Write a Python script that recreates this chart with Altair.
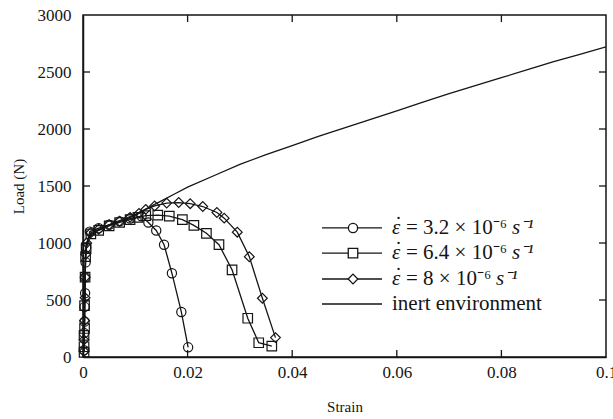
import altair as alt
import pandas as pd

# ---------------- data ----------------
series = ["r32", "r64", "r80", "inert"]

c_strain = [0.0002, 0.0002, 0.0003, 0.0003, 0.0004, 0.0004, 0.0005, 0.0006, 0.0013, 0.003,
            0.005, 0.007, 0.009, 0.0112, 0.0125, 0.014, 0.0155, 0.017, 0.0188, 0.0201]
c_load = [60, 210, 310, 440, 560, 700, 830, 960, 1100, 1130,
          1160, 1190, 1215, 1235, 1180, 1110, 985, 735, 395, 85]

s_strain = [0.0002, 0.0002, 0.0002, 0.0003, 0.0003, 0.0004, 0.0005, 0.0006, 0.0015, 0.003,
            0.005, 0.007, 0.009, 0.0105, 0.012, 0.0143, 0.0165, 0.019, 0.0212, 0.0236,
            0.026, 0.0285, 0.0315, 0.0336, 0.0361]
s_load = [40, 90, 190, 250, 450, 700, 880, 950, 1080, 1110,
          1150, 1180, 1205, 1225, 1240, 1245, 1235, 1205, 1155, 1085,
          985, 765, 340, 125, 95]

d_strain = [0.0002, 0.0002, 0.0003, 0.0004, 0.0004, 0.0005, 0.0007, 0.0015, 0.003, 0.005,
            0.007, 0.009, 0.0107, 0.012, 0.0137, 0.016, 0.0183, 0.0205, 0.0229, 0.0256,
            0.027, 0.0295, 0.0318, 0.0343, 0.0368]
d_load = [50, 150, 320, 520, 700, 900, 1000, 1090, 1120, 1160,
          1190, 1225, 1260, 1295, 1325, 1350, 1355, 1345, 1320, 1268,
          1218, 1095, 880, 515, 170]

i_strain = [0, 0.0002, 0.0004, 0.0006, 0.001, 0.002, 0.004, 0.006, 0.008, 0.01,
            0.0125, 0.015, 0.0175, 0.02, 0.025, 0.03, 0.035, 0.04, 0.045, 0.05,
            0.055, 0.06, 0.065, 0.07, 0.075, 0.08, 0.085, 0.09, 0.095, 0.1]
i_load = [0, 400, 800, 980, 1040, 1090, 1140, 1180, 1215, 1250,
          1310, 1370, 1430, 1490, 1590, 1690, 1775, 1855, 1935, 2010,
          2085, 2160, 2235, 2310, 2380, 2450, 2520, 2590, 2655, 2720]

x_ticks = [0, 0.02, 0.04, 0.06, 0.08, 0.1]
y_ticks = [0, 500, 1000, 1500, 2000, 2500, 3000]
x_inner_ticks = [0.02, 0.04, 0.06, 0.08]
y_inner_ticks = [500, 1000, 1500, 2000, 2500]

# legend entries (text pieces)
leg_series = ["r32", "r64", "r80", "inert"]
leg_eps = ["ε", "ε", "ε", ""]
leg_dot = ["˙", "˙", "˙", ""]
leg_mid = ["= 3.2 × 10⁻⁶", "= 6.4 × 10⁻⁶", "= 8 × 10⁻⁶", "inert environment"]
leg_unit = ["s⁻¹", "s⁻¹", "s⁻¹", ""]
leg_load = [1132, 912, 684, 465]

# ---------------- layout constants ----------------
W, H = 523, 342
PX = 0.1 / W          # strain per pixel
FONT = "Liberation Serif"
INK = "#151515"

# legend geometry (pixels inside plot, converted to strain)
lx0, lx1, lxm, lxt = 239, 299, 270, 309
dot_dx = [3, 3, 3, 0]
mid_dx = [14, 14, 14, 0]
unit_dx = [120, 120, 104, 0]

# ---------------- tables ----------------
def frame(xs, ys, name):
    return pd.DataFrame({"strain": xs, "load": ys, "series": name, "idx": range(len(xs))})

df = pd.concat([frame(c_strain, c_load, "r32"), frame(s_strain, s_load, "r64"),
                frame(d_strain, d_load, "r80"), frame(i_strain, i_load, "inert")],
               ignore_index=True)
df_pts = df[df["series"] != "inert"]

leg = pd.DataFrame({"series": leg_series, "eps": leg_eps, "dot": leg_dot, "mid": leg_mid,
                    "unit": leg_unit, "load": leg_load})
leg["strain"] = lx0 * PX
leg["strain2"] = lx1 * PX
leg["xm"] = lxm * PX
leg["xt"] = lxt * PX
leg["xdot"] = [(lxt + d) * PX for d in dot_dx]
leg["xmid"] = [(lxt + d) * PX for d in mid_dx]
leg["xunit"] = [(lxt + d) * PX for d in unit_dx]
leg_m = leg[leg["series"] != "inert"]

xs = alt.Scale(domain=[0, 0.1], nice=False, zero=False)
ys = alt.Scale(domain=[0, 3000], nice=False)

xaxis = alt.Axis(values=x_ticks, format="~g", ticks=False, grid=False,
                 labelPadding=7, labelFlush=False, labelOverlap=False, titlePadding=19)
yaxis = alt.Axis(values=y_ticks, format="d", ticks=False, grid=False,
                 labelPadding=12, labelFlush=False, labelOverlap=False, titlePadding=11)

def X(field="strain"):
    return alt.X(f"{field}:Q", scale=xs, axis=xaxis, title="Strain")

Y = alt.Y("load:Q", scale=ys, axis=yaxis, title="Load (N)")

shape_scale = alt.Scale(domain=["r32", "r64", "r80"], range=["circle", "square", "diamond"])
size_scale = alt.Scale(domain=["r32", "r64", "r80"], range=[85, 95, 70])

lines = alt.Chart(df).mark_line(color=INK, strokeWidth=1.3, clip=True).encode(
    x=X(), y=Y, detail="series:N", order="idx:Q")

pts = alt.Chart(df_pts).mark_point(filled=False, color=INK, strokeWidth=1.2, opacity=1).encode(
    x=X(), y=Y,
    shape=alt.Shape("series:N", scale=shape_scale, legend=None),
    size=alt.Size("series:N", scale=size_scale, legend=None))

# inward ticks on all four sides
xt = pd.DataFrame({"strain": x_inner_ticks})
yt = pd.DataFrame({"load": y_inner_ticks})
tb = alt.Chart(xt).mark_rule(color=INK, strokeWidth=1.3).encode(
    x=X(), y=alt.value(H), y2=alt.value(H - 7))
tt = alt.Chart(xt).mark_rule(color=INK, strokeWidth=1.3).encode(
    x=X(), y=alt.value(0), y2=alt.value(7))
tl = alt.Chart(yt).mark_rule(color=INK, strokeWidth=1.3).encode(
    y=Y, x=alt.value(0), x2=alt.value(7))
tr = alt.Chart(yt).mark_rule(color=INK, strokeWidth=1.3).encode(
    y=Y, x=alt.value(W), x2=alt.value(W - 7))

# legend
leg_lines = alt.Chart(leg).mark_rule(color=INK, strokeWidth=1.3).encode(
    x=X(), x2="strain2:Q", y=Y)
leg_pts = alt.Chart(leg_m).mark_point(filled=True, fill="white", color=INK, stroke=INK,
                                      strokeWidth=1.3, opacity=1).encode(
    x=X("xm"), y=Y,
    shape=alt.Shape("series:N", scale=shape_scale, legend=None),
    size=alt.Size("series:N", scale=alt.Scale(domain=["r32", "r64", "r80"],
                                              range=[150, 130, 90]), legend=None))
leg_eps_t = alt.Chart(leg_m).mark_text(align="left", baseline="middle", font=FONT,
                                       fontSize=21, fontStyle="italic", color=INK).encode(
    x=X("xt"), y=Y, text="eps:N")
leg_dot_t = alt.Chart(leg_m).mark_text(align="left", baseline="middle", font=FONT,
                                       fontSize=21, color=INK, dy=-3).encode(
    x=X("xdot"), y=Y, text="dot:N")
leg_mid_t = alt.Chart(leg).mark_text(align="left", baseline="middle", font=FONT,
                                     fontSize=21, color=INK).encode(
    x=X("xmid"), y=Y, text="mid:N")
leg_unit_t = alt.Chart(leg_m).mark_text(align="left", baseline="middle", font=FONT,
                                        fontSize=21, fontStyle="italic", color=INK).encode(
    x=X("xunit"), y=Y, text="unit:N")

chart = alt.layer(lines, pts, tb, tt, tl, tr, leg_lines, leg_pts,
                  leg_eps_t, leg_dot_t, leg_mid_t, leg_unit_t).properties(
    width=W, height=H, background="white",
    autosize=alt.AutoSizeParams(type="none"),
    padding={"left": 83, "top": 15, "right": 7, "bottom": 62},
).configure_view(stroke=INK, strokeWidth=1.5).configure_axis(
    domainColor=INK, domainWidth=1.5,
    labelFont=FONT, labelFontSize=17, labelColor=INK,
    titleFont=FONT, titleFontSize=15, titleFontWeight="normal", titleColor=INK,
)

chart.save("out.html", embed_options={"renderer": "svg", "actions": False})
